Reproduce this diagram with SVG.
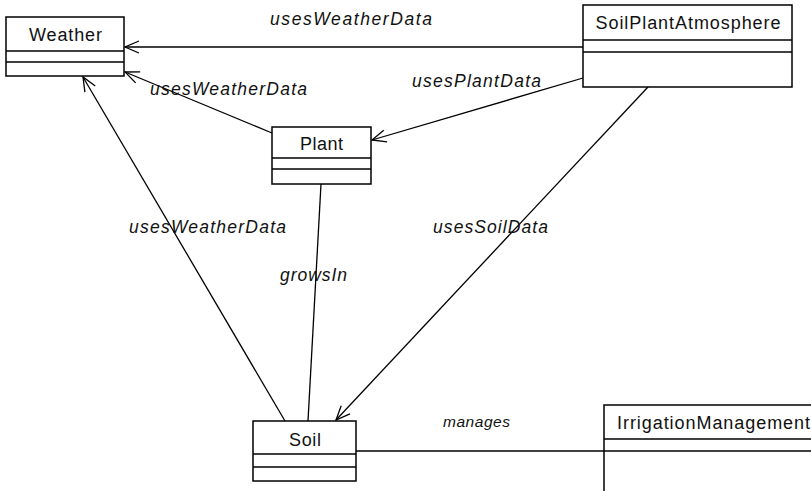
<svg xmlns="http://www.w3.org/2000/svg" width="811" height="491" viewBox="0 0 811 491">
<style>
.box{fill:#fff;stroke:#000;stroke-width:1.5}
.div{stroke:#000;stroke-width:1.5}
.name{font-family:"Liberation Sans",Arial,sans-serif;font-size:18px;fill:#111;text-anchor:middle}
.lbl{font-family:"Liberation Sans",Arial,sans-serif;font-size:17.5px;font-style:italic;fill:#111}
.ln{fill:none;stroke:#000;stroke-width:1.3}
</style>
<defs>
<marker id="open" markerUnits="userSpaceOnUse" viewBox="-16 -8 18 16" refX="0" refY="0" markerWidth="18" markerHeight="16" orient="auto">
<path d="M-14,-6 L0,0 L-14,6" fill="none" stroke="#000" stroke-width="1.3"/>
</marker>
</defs>
<rect width="811" height="491" fill="#fff"/>
<g id="connectors">
<line class="ln" x1="583" y1="47" x2="125" y2="47" marker-end="url(#open)"/>
<line class="ln" x1="272" y1="133" x2="125" y2="72" marker-end="url(#open)"/>
<line class="ln" x1="285" y1="421" x2="83" y2="77" marker-end="url(#open)"/>
<line class="ln" x1="583" y1="78" x2="372" y2="140" marker-end="url(#open)"/>
<line class="ln" x1="648" y1="87" x2="336" y2="420" marker-end="url(#open)"/>
<line class="ln" x1="321" y1="184" x2="308" y2="421"/>
<line class="ln" x1="356" y1="451" x2="604" y2="451"/>
<text class="lbl" x="270" y="25" textLength="162" lengthAdjust="spacing">usesWeatherData</text>
<text class="lbl" x="150" y="95" textLength="157" lengthAdjust="spacing">usesWeatherData</text>
<text class="lbl" x="412" y="87" textLength="129" lengthAdjust="spacing">usesPlantData</text>
<text class="lbl" x="129" y="233" textLength="157" lengthAdjust="spacing">usesWeatherData</text>
<text class="lbl" x="433" y="233" textLength="115" lengthAdjust="spacing">usesSoilData</text>
<text class="lbl" x="280" y="281" textLength="67" lengthAdjust="spacing">growsIn</text>
<text class="lbl" x="443" y="427" style="font-size:15.5px" textLength="67" lengthAdjust="spacing">manages</text>
</g>
<g id="Weather">
<rect class="box" x="6" y="17" width="118" height="59"/>
<line class="div" x1="6" y1="51" x2="124" y2="51"/>
<line class="div" x1="6" y1="62" x2="124" y2="62"/>
<text class="name" x="65.5" y="41" textLength="73" lengthAdjust="spacing">Weather</text>
</g>
<g id="SoilPlantAtmosphere">
<rect class="box" x="583" y="5" width="209" height="82"/>
<line class="div" x1="583" y1="40" x2="792" y2="40"/>
<line class="div" x1="583" y1="52" x2="792" y2="52"/>
<text class="name" x="688" y="29" textLength="185" lengthAdjust="spacing">SoilPlantAtmosphere</text>
</g>
<g id="Plant">
<rect class="box" x="272" y="127" width="99" height="57"/>
<line class="div" x1="272" y1="158" x2="371" y2="158"/>
<line class="div" x1="272" y1="169" x2="371" y2="169"/>
<text class="name" x="321.5" y="150" textLength="43" lengthAdjust="spacing">Plant</text>
</g>
<g id="Soil">
<rect class="box" x="253" y="421" width="103" height="60"/>
<line class="div" x1="253" y1="454" x2="356" y2="454"/>
<line class="div" x1="253" y1="467" x2="356" y2="467"/>
<text class="name" x="305" y="446" textLength="32" lengthAdjust="spacing">Soil</text>
</g>
<g id="IrrigationManagement">
<rect class="box" x="604" y="405" width="230" height="110"/>
<line class="div" x1="604" y1="439" x2="834" y2="439"/>
<line class="div" x1="604" y1="451" x2="834" y2="451"/>
<text class="name" x="617" y="429" style="text-anchor:start" textLength="193" lengthAdjust="spacing">IrrigationManagement</text>
</g>
</svg>
